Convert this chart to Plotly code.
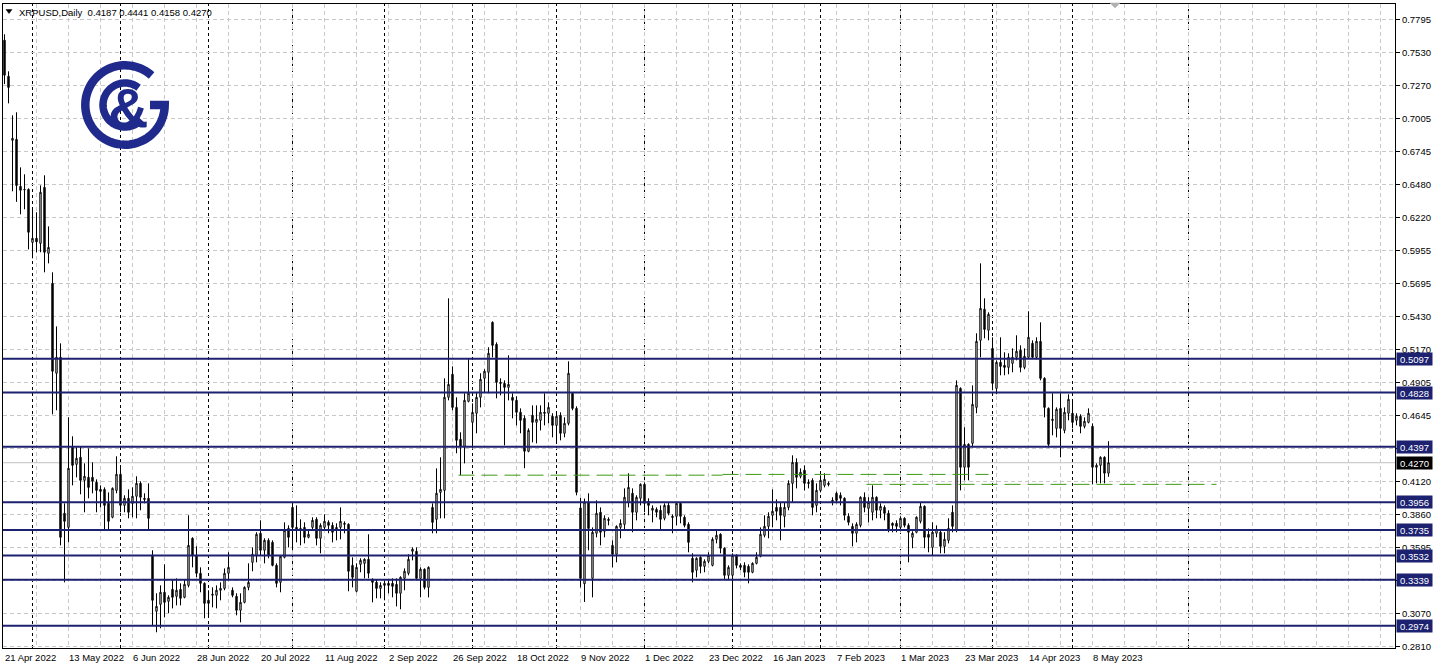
import math
import pandas as pd
import plotly.graph_objects as go

# ---------------- data ----------------
opens = [
.7629,.7342,.6833,.6841,.6467,.6443,.6443,.6022,.6054,.6014,
.6459,.5935,.5696,.4981,.5108,.3868,.3756,.4392,.4257,.4313,
.4130,.4154,.4154,.4114,.4058,.4058,.3947,.3836,.4050,.4178,
.3931,.3987,.3947,.4003,.4106,.3987,.3987,.3534,.3089,.3144,
.3240,.3168,.3263,.3208,.3263,.3200,.3295,.3669,.3534,.3391,
.3311,.3176,.3216,.3216,.3256,.3271,.3391,.3256,.3208,.3097,
.3160,.3279,.3478,.3534,.3709,.3574,.3653,.3637,.3454,.3319,
.3518,.3748,.3915,.3756,.3748,.3756,.3677,.3756,.3820,.3669,
.3756,.3796,.3772,.3732,.3756,.3780,.3780,.3454,.3248,.3462,
.3470,.3502,.3343,.3319,.3271,.3295,.3311,.3311,.3303,.3232,
.3351,.3391,.3566,.3566,.3351,.3423,.3279,.3915,.3820,.4034,
.4050,.4790,.4973,.4710,.4456,.4400,.4758,.4591,.4663,.4790,
.4941,.4989,.5386,.5211,.4909,.4901,.4869,.4790,.4766,.4671,
.4623,.4361,.4647,.4591,.4607,.4671,.4663,.4639,.4567,.4647,
.4504,.4583,.4822,.4702,.3911,.3308,.3955,.3351,.3709,.3876,
.3725,.3820,.3613,.3542,.3756,.3780,.3955,.4027,.3876,.3987,
.4098,.3963,.3892,.3899,.3892,.3828,.3931,.3844,.3844,.3947,
.3836,.3780,.3510,.3415,.3518,.3446,.3486,.3454,.3661,.3701,
.3590,.3375,.3375,.3534,.3454,.3454,.3446,.3399,.3470,.3526,
.3693,.3764,.3852,.3915,.3915,.3844,.3915,.4106,.4273,.4162,
.4210,.4114,.4130,.3931,.4050,.4090,.4106,.3971,.4027,.4011,
.3987,.3844,.3764,.3709,.3772,.3995,.3907,.3876,.3995,.3892,
.3915,.3868,.3788,.3788,.3756,.3828,.3772,.3677,.3717,.3804,
.3923,.3701,.3597,.3709,.3717,.3605,.3653,.3876,.3732,.4861,
.4234,.4416,.4424,.4710,.5243,.5490,.5323,.5179,.4861,.5068,
.5044,.5028,.5060,.5108,.5164,.5028,.5108,.5219,.5108,.5235,
.4941,.4702,.4615,.4543,.4702,.4527,.4663,.4663,.4607,.4639,
.4559,.4591,.4559,.4234,.4249,.4313,.4187]

highs = [
.7676,.7382,.7032,.7056,.6618,.6563,.6451,.6300,.6261,.6475,
.6555,.6149,.5784,.5354,.5219,.3947,.4631,.4480,.4392,.4400,
.4265,.4384,.4273,.4138,.4090,.4074,.4034,.4074,.4321,.4249,
.4011,.4058,.4074,.4162,.4122,.4027,.4106,.3574,.3232,.3295,
.3462,.3216,.3335,.3351,.3311,.3343,.3852,.3677,.3605,.3438,
.3319,.3256,.3279,.3295,.3319,.3430,.3558,.3279,.3232,.3232,
.3287,.3470,.3597,.3717,.3812,.3669,.3669,.3653,.3470,.3534,
.3796,.3772,.3955,.3931,.3820,.3796,.3732,.3836,.3836,.3788,
.3860,.3812,.3796,.3788,.3915,.3804,.3788,.3518,.3470,.3510,
.3510,.3701,.3351,.3343,.3319,.3335,.3335,.3351,.3351,.3367,
.3430,.3542,.3597,.3597,.3438,.3430,.3446,.3947,.4225,.4313,
.4941,.5577,.5036,.4790,.4512,.4822,.5100,.4742,.4830,.4981,
.5013,.5188,.5394,.5227,.4941,.4925,.5124,.4822,.4798,.4702,
.4647,.4543,.4726,.4726,.4726,.4822,.4750,.4663,.4671,.4671,
.4631,.5076,.4830,.4718,.3990,.3985,.4027,.3756,.3971,.3915,
.3852,.3836,.3653,.3772,.3820,.4066,.4186,.4066,.4011,.4106,
.4114,.3987,.3931,.3915,.3931,.3947,.3955,.3860,.3955,.3955,
.3852,.3796,.3550,.3518,.3526,.3502,.3558,.3677,.3732,.3709,
.3597,.3454,.3550,.3542,.3470,.3478,.3462,.3478,.3558,.3756,
.3852,.3876,.4058,.3979,.3955,.3955,.4130,.4329,.4305,.4225,
.4249,.4138,.4146,.4106,.4170,.4186,.4122,.3995,.4042,.4034,
.3995,.3868,.3788,.3796,.4003,.4034,.3995,.4090,.4003,.3947,
.3931,.3892,.3796,.3812,.3844,.3836,.3788,.3725,.3844,.3955,
.3931,.3748,.3796,.3772,.3732,.3717,.3828,.3931,.4925,.4869,
.4551,.4424,.4885,.5299,.5855,.5577,.5466,.5267,.5084,.5267,
.5148,.5140,.5179,.5283,.5203,.5179,.5474,.5243,.5267,.5386,
.4949,.4710,.4822,.4710,.4822,.4710,.4814,.4758,.4663,.4655,
.4631,.4702,.4583,.4265,.4321,.4321,.4441]

lows = [
.7280,.7127,.6428,.6344,.6245,.6285,.5966,.5895,.5943,.5943,
.5784,.5855,.4655,.4687,.3613,.3319,.3637,.4090,.4154,.4019,
.3876,.3987,.4027,.3876,.3915,.3741,.3741,.3828,.4027,.3876,
.3876,.3828,.3836,.3828,.3892,.3947,.3741,.2978,.2922,.2954,
.3041,.3073,.3112,.3136,.3136,.3192,.3279,.3438,.3359,.3240,
.3033,.3041,.3120,.3112,.3176,.3256,.3335,.3200,.3057,.3001,
.3152,.3256,.3407,.3478,.3534,.3470,.3510,.3446,.3279,.3240,
.3510,.3597,.3574,.3637,.3613,.3629,.3669,.3732,.3613,.3550,
.3732,.3709,.3637,.3653,.3661,.3709,.3248,.3279,.3240,.3399,
.3351,.3351,.3160,.3192,.3192,.3176,.3232,.3200,.3128,.3105,
.3256,.3375,.3494,.3335,.3200,.3263,.3200,.3709,.3709,.3828,
.3828,.4766,.4687,.4345,.4170,.4265,.4750,.4384,.4504,.4710,
.4830,.4822,.5108,.4782,.4806,.4408,.4766,.4623,.4567,.4504,
.4226,.4353,.4432,.4424,.4527,.4567,.4583,.4472,.4432,.4448,
.4472,.4567,.4687,.4011,.3279,.3163,.3574,.3200,.3677,.3613,
.3677,.3772,.3438,.3478,.3669,.3732,.3915,.3717,.3812,.3931,
.3876,.3852,.3796,.3836,.3732,.3812,.3852,.3709,.3772,.3788,
.3756,.3558,.3319,.3359,.3391,.3399,.3470,.3446,.3629,.3550,
.3343,.3335,.2953,.3430,.3415,.3359,.3311,.3391,.3462,.3518,
.3677,.3669,.3756,.3812,.3653,.3756,.3892,.3955,.4066,.4146,
.4050,.4066,.3852,.3876,.4034,.4074,.4082,.3931,.3947,.3931,
.3812,.3772,.3605,.3637,.3756,.3876,.3796,.3812,.3828,.3828,
.3812,.3717,.3717,.3717,.3725,.3756,.3478,.3590,.3709,.3788,
.3590,.3558,.3534,.3677,.3550,.3550,.3629,.3717,.3717,.4050,
.4130,.4130,.4392,.4663,.5108,.5259,.5243,.4846,.4814,.4965,
.4965,.4973,.4989,.5084,.4989,.5013,.5100,.5100,.5092,.4925,
.4631,.4392,.4488,.4472,.4313,.4504,.4607,.4543,.4567,.4504,
.4543,.4583,.4098,.4106,.4106,.4106,.4158]

closes = [
.7351,.7254,.6849,.6475,.6436,.6440,.6102,.6054,.6026,.6420,
.5943,.5982,.4997,.5108,.3677,.3804,.4225,.4249,.4305,.4130,
.4162,.4074,.4122,.4050,.4042,.3931,.3804,.4066,.4178,.3931,
.3987,.3876,.4003,.4106,.3995,.3979,.3828,.3176,.3128,.3240,
.3160,.3200,.3200,.3256,.3192,.3303,.3613,.3534,.3391,.3311,
.3152,.3152,.3224,.3256,.3271,.3391,.3438,.3216,.3097,.3160,
.3279,.3319,.3542,.3701,.3574,.3653,.3534,.3454,.3311,.3526,
.3732,.3677,.3756,.3732,.3732,.3677,.3701,.3812,.3669,.3772,
.3804,.3772,.3717,.3756,.3804,.3788,.3407,.3359,.3438,.3494,
.3502,.3391,.3319,.3271,.3295,.3311,.3295,.3287,.3232,.3359,
.3407,.3502,.3582,.3351,.3423,.3279,.3438,.3796,.4027,.4058,
.4790,.4893,.4710,.4448,.4400,.4766,.4822,.4670,.4790,.4933,
.4997,.5140,.5203,.4909,.4901,.4869,.4893,.4766,.4671,.4607,
.4361,.4527,.4591,.4615,.4671,.4663,.4710,.4567,.4639,.4504,
.4583,.4981,.4702,.4035,.3351,.3957,.3748,.3717,.3868,.3717,
.3828,.3812,.3542,.3764,.3788,.3995,.4074,.3876,.3995,.4098,
.3947,.3931,.3908,.3876,.3820,.3931,.3868,.3836,.3947,.3844,
.3772,.3637,.3399,.3510,.3446,.3486,.3534,.3661,.3693,.3590,
.3375,.3438,.3534,.3454,.3438,.3399,.3399,.3470,.3518,.3701,
.3764,.3844,.3884,.3884,.3852,.3915,.4106,.4273,.4154,.4194,
.4106,.4106,.3915,.4050,.4130,.4138,.4098,.3963,.3971,.3987,
.3852,.3796,.3709,.3780,.3995,.3915,.3955,.3995,.3892,.3923,
.3868,.3732,.3772,.3764,.3828,.3772,.3717,.3709,.3836,.3923,
.3677,.3677,.3717,.3740,.3605,.3661,.3748,.3764,.4885,.4234,
.4416,.4234,.4734,.5235,.5497,.5330,.5450,.4901,.5068,.5036,
.5028,.5108,.5108,.5156,.5028,.5116,.5267,.5108,.5235,.4941,
.4710,.4416,.4607,.4695,.4543,.4671,.4774,.4591,.4639,.4559,
.4599,.4663,.4234,.4249,.4313,.4187,.4270]

first_date = "2022-04-21"
date_label_dates = ["2022-04-21", "2022-05-13", "2022-06-06", "2022-06-28", "2022-07-20",
                    "2022-08-11", "2022-09-02", "2022-09-26", "2022-10-18", "2022-11-09",
                    "2022-12-01", "2022-12-23", "2023-01-16", "2023-02-07", "2023-03-01",
                    "2023-03-23", "2023-04-14", "2023-05-08"]
date_label_text = ["21 Apr 2022", "13 May 2022", "6 Jun 2022", "28 Jun 2022", "20 Jul 2022",
                   "11 Aug 2022", "2 Sep 2022", "26 Sep 2022", "18 Oct 2022", "9 Nov 2022",
                   "1 Dec 2022", "23 Dec 2022", "16 Jan 2023", "7 Feb 2023", "1 Mar 2023",
                   "23 Mar 2023", "14 Apr 2023", "8 May 2023"]
separator_dates = ["2022-05-02", "2022-06-01", "2022-07-01", "2022-08-01", "2022-09-01",
                   "2022-10-03", "2022-11-01", "2022-12-01", "2023-01-02", "2023-02-01",
                   "2023-03-01", "2023-04-03", "2023-05-01"]
future_separator_bar = 296

y_tick_text = ["0.7795", "0.7530", "0.7270", "0.7005", "0.6745", "0.6480", "0.6220", "0.5955",
               "0.5695", "0.5430", "0.5170", "0.4905", "0.4645", "0.4385", "0.4120", "0.3860",
               "0.3595", "0.3335", "0.3070", "0.2810"]
levels = [0.5097, 0.4828, 0.4397, 0.3956, 0.3735, 0.3532, 0.3339, 0.2974]
last_price = 0.4270
title_text = "XRPUSD,Daily\u00a0\u00a00.4187 0.4441 0.4158 0.4270"

# green dashed support lines: (start date, end bar, level)
green_lines = [("2022-09-28", 179.5, 0.4171), ("2022-12-29", 246, 0.4177), ("2023-02-17", 303, 0.4098)]

# ---------------- geometry / styling ----------------
W, H = 1437, 670
ML, MR, MT, MB = 3, 42, 4, 22
PW, PH = W - ML - MR, H - MT - MB
NAVY = "#1c2170"
LOGO = "#1f2a8c"
FONT = "Liberation Sans, Arial, sans-serif"

n = len(opens)
dates = pd.bdate_range(first_date, periods=n)
pos = {d.strftime("%Y-%m-%d"): i for i, d in enumerate(dates)}
idx = list(range(n))

fig = go.Figure()
fig.add_trace(go.Candlestick(
    x=idx, open=opens, high=highs, low=lows, close=closes,
    increasing=dict(line=dict(color="black", width=1), fillcolor="white"),
    decreasing=dict(line=dict(color="black", width=1), fillcolor="black"),
    whiskerwidth=0, showlegend=False, hoverinfo="skip"))

# bar spacing of 4 px, bars centred on half pixels for crisp rendering
x_min = -0.375
x_max = x_min + PW / 4
y_min, y_max = 0.2797, 0.7917

shapes = []
annotations = []

def P(px, py):
    return ((px - ML) / PW, (H - MB - py) / PH)

# month separators
for d in separator_dates:
    i = pos[d]
    shapes.append(dict(type="line", xref="x", yref="paper", x0=i, x1=i, y0=0, y1=1,
                       line=dict(color="black", width=1, dash="3px,3px"), layer="below"))
shapes.append(dict(type="line", xref="x", yref="paper", x0=future_separator_bar, x1=future_separator_bar,
                   y0=0, y1=1, line=dict(color="black", width=1, dash="3px,3px"), layer="below"))

# current price line
shapes.append(dict(type="line", xref="paper", yref="y", x0=0, x1=1, y0=last_price, y1=last_price,
                   line=dict(color="#c0c0c0", width=1), layer="below"))

# green dashed lines
for start, end_bar, lvl in green_lines:
    shapes.append(dict(type="line", xref="x", yref="y", x0=pos[start] - 0.5, x1=end_bar, y0=lvl, y1=lvl,
                       line=dict(color="#3f9a14", width=1, dash="16px,7px"), layer="above"))

# navy levels
for lvl in levels:
    shapes.append(dict(type="line", xref="paper", yref="y", x0=0, x1=1, y0=lvl, y1=lvl,
                       line=dict(color=NAVY, width=2), layer="above"))
    annotations.append(dict(x=1, xref="paper", y=lvl, yref="y", xanchor="left", yanchor="middle",
                            xshift=1, text=f"{lvl:.4f}", showarrow=False, bgcolor=NAVY,
                            font=dict(color="white", size=9.5, family=FONT), borderpad=1,
                            width=33, height=10, align="center"))
annotations.append(dict(x=1, xref="paper", y=last_price, yref="y", xanchor="left", yanchor="middle",
                        xshift=1, text=f"{last_price:.4f}", showarrow=False, bgcolor="black",
                        font=dict(color="white", size=9.5, family=FONT), borderpad=1,
                        width=33, height=10, align="center"))

# date labels (left aligned like the terminal)
for d, t in zip(date_label_dates, date_label_text):
    annotations.append(dict(x=pos[d], xref="x", y=0, yref="paper", xanchor="left", yanchor="top",
                            xshift=-2, yshift=-2, text=t, showarrow=False,
                            font=dict(color="black", size=9.5, family=FONT)))

# title
tx, ty = P(17, 12)
annotations.append(dict(x=tx, y=ty, xref="paper", yref="paper", xanchor="left", yanchor="middle",
                        text=title_text, showarrow=False, font=dict(color="black", size=9.5, family=FONT)))
def poly(points, close=True):
    s = ""
    for k, (px, py) in enumerate(points):
        a, b = P(px, py)
        s += ("M" if k == 0 else "L") + f"{a:.6f},{b:.6f} "
    return s + ("Z" if close else "")
shapes.append(dict(type="path", xref="paper", yref="paper", path=poly([(6, 9.5), (12, 9.5), (9, 13.5)]),
                   fillcolor="black", line=dict(color="black", width=0.5), layer="above"))
shapes.append(dict(type="path", xref="paper", yref="paper", path=poly([(1110, 3), (1120, 3), (1115, 8)]),
                   fillcolor="#b0b0b0", line=dict(color="#b0b0b0", width=0.5), layer="above"))

# logo
def arc(cx, cy, r, a0, a1, steps=90):
    pts = []
    for k in range(steps + 1):
        a = math.radians(a0 + (a1 - a0) * k / steps)
        pts.append((cx + r * math.cos(a), cy - r * math.sin(a)))
    return pts
cx, cy = 125, 105
outer = arc(cx, cy, 39.7, 48, 360) + [(150, 105)]
inner = arc(cx, cy, 22, 52, 318)
shapes.append(dict(type="path", xref="paper", yref="paper", path=poly(outer, close=False),
                   line=dict(color=LOGO, width=8.5), layer="above"))
shapes.append(dict(type="path", xref="paper", yref="paper", path=poly(inner, close=False),
                   line=dict(color=LOGO, width=7.5), layer="above"))
ax, ay = P(128, 107)
annotations.append(dict(x=ax, y=ay, xref="paper", yref="paper", xanchor="center", yanchor="middle",
                        text="&", showarrow=False,
                        font=dict(color=LOGO, size=56, family="Liberation Sans Narrow, Liberation Sans, Arial",
                                  weight="bold")))

fig.update_layout(
    width=W, height=H, margin=dict(l=ML, r=MR, t=MT, b=MB),
    paper_bgcolor="white", plot_bgcolor="white", boxgap=0.5,
    shapes=shapes, annotations=annotations, showlegend=False, hovermode=False,
    xaxis=dict(range=[x_min, x_max], rangeslider=dict(visible=False), showline=True, linecolor="black",
               linewidth=1, mirror=True, tickmode="array", tickvals=list(range(8, 348, 8)),
               showticklabels=False, ticks="", showgrid=True, gridcolor="#c8c8c8", griddash="4px,3px",
               gridwidth=1, zeroline=False, fixedrange=True),
    yaxis=dict(range=[y_min, y_max], side="right", showline=True, linecolor="black", linewidth=1,
               mirror=True, tickmode="array", tickvals=[float(t) for t in y_tick_text], ticktext=y_tick_text,
               ticks="outside", ticklen=4, tickcolor="black", showgrid=True, gridcolor="#c8c8c8",
               griddash="4px,3px", gridwidth=1, zeroline=False,
               tickfont=dict(color="black", size=9.5, family=FONT), fixedrange=True),
)

fig.write_html("out.html", config=dict(displayModeBar=False, staticPlot=True),
               post_script="document.body.style.margin='0';document.body.style.overflow='hidden';")
